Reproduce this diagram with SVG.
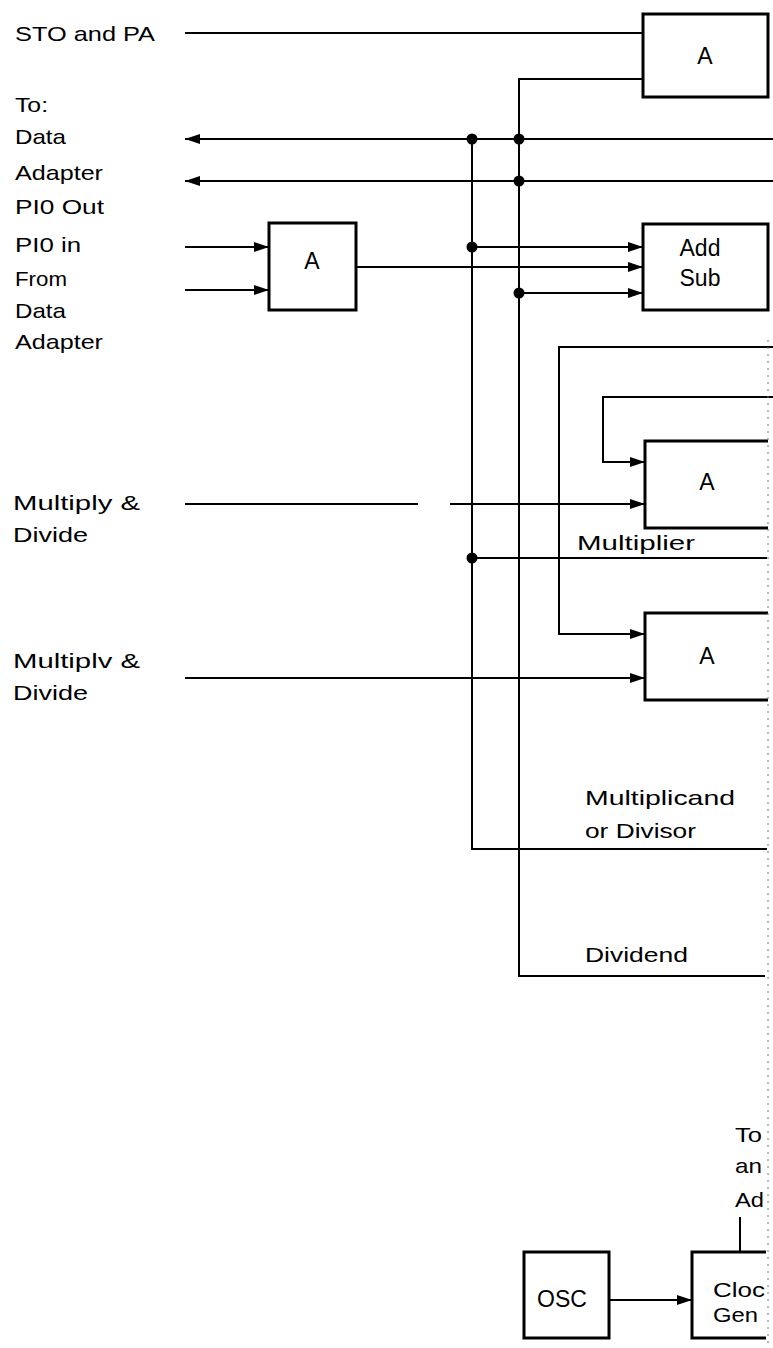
<svg xmlns="http://www.w3.org/2000/svg" width="773" height="1348" viewBox="0 0 773 1348">
<style>
text{font-family:"Liberation Sans",Arial,sans-serif;font-size:21px;fill:#000}
.lbl{text-anchor:middle;font-size:23px}
.box{fill:none;stroke:#000;stroke-width:3}
.w{fill:none;stroke:#000;stroke-width:2}
.dot{fill:#000}
.edge{fill:none;stroke:#777;stroke-width:1;stroke-dasharray:2 5}
</style>
<defs>
<marker id="ar" viewBox="0 0 15 10" refX="15" refY="5" markerWidth="15" markerHeight="10" markerUnits="userSpaceOnUse" orient="auto">
<path d="M0,0 L15,5 L0,10 Z" fill="#000"/>
</marker>
</defs>
<rect width="773" height="1348" fill="#fff"/>

<g id="labels">
<text x="15" y="41" textLength="140" lengthAdjust="spacingAndGlyphs">STO and PA</text>
<text x="15" y="112" textLength="33" lengthAdjust="spacingAndGlyphs">To:</text>
<text x="15" y="144" textLength="51" lengthAdjust="spacingAndGlyphs">Data</text>
<text x="15" y="180" textLength="88" lengthAdjust="spacingAndGlyphs">Adapter</text>
<text x="15" y="214" textLength="89" lengthAdjust="spacingAndGlyphs">PI0 Out</text>
<text x="15" y="252" textLength="66" lengthAdjust="spacingAndGlyphs">PI0 in</text>
<text x="15" y="286" textLength="52" lengthAdjust="spacingAndGlyphs">From</text>
<text x="15" y="318" textLength="51" lengthAdjust="spacingAndGlyphs">Data</text>
<text x="15" y="349" textLength="88" lengthAdjust="spacingAndGlyphs">Adapter</text>
<text x="13" y="510" textLength="127" lengthAdjust="spacingAndGlyphs">Multiply &amp;</text>
<text x="13" y="542" textLength="75" lengthAdjust="spacingAndGlyphs">Divide</text>
<text x="13" y="668" textLength="127" lengthAdjust="spacingAndGlyphs">Multiplv &amp;</text>
<text x="13" y="700" textLength="75" lengthAdjust="spacingAndGlyphs">Divide</text>
<text x="577" y="550" textLength="118" lengthAdjust="spacingAndGlyphs">Multiplier</text>
<text x="585" y="805" textLength="150" lengthAdjust="spacingAndGlyphs">Multiplicand</text>
<text x="585" y="838" textLength="111" lengthAdjust="spacingAndGlyphs">or Divisor</text>
<text x="585" y="962" textLength="103" lengthAdjust="spacingAndGlyphs">Dividend</text>
<text x="735" y="1142" textLength="27" lengthAdjust="spacingAndGlyphs">To</text>
<text x="735" y="1173" textLength="27" lengthAdjust="spacingAndGlyphs">an</text>
<text x="735" y="1207" textLength="29" lengthAdjust="spacingAndGlyphs">Ad</text>
</g>

<g id="boxA_top">
<rect class="box" x="643" y="14" width="125" height="83"/>
<text class="lbl" x="705" y="64">A</text>
</g>
<g id="boxA_in">
<rect class="box" x="269" y="223" width="87" height="87"/>
<text class="lbl" x="312" y="269">A</text>
</g>
<g id="boxAddSub">
<rect class="box" x="643" y="224" width="125" height="86"/>
<text class="lbl" x="700" y="256">Add</text>
<text class="lbl" x="700" y="286">Sub</text>
</g>
<g id="boxA1">
<path class="box" d="M768,441 H645 V528 H768"/>
<text class="lbl" x="707" y="490">A</text>
</g>
<g id="boxA2">
<path class="box" d="M768,613 H645 V700 H768"/>
<text class="lbl" x="707" y="664">A</text>
</g>
<g id="boxOSC">
<rect class="box" x="524" y="1252" width="85" height="86"/>
<text class="lbl" x="562" y="1307">OSC</text>
</g>
<g id="boxClock">
<path class="box" d="M766,1252 H692 V1338 H766"/>
<text x="713" y="1297" textLength="52" lengthAdjust="spacingAndGlyphs">Cloc</text>
<text x="713" y="1322" textLength="45" lengthAdjust="spacingAndGlyphs">Gen</text>
</g>

<g id="connectors">
<path class="w" d="M185,33 H643"/>
<path class="w" d="M643,79 H519 V976 H765"/>
<path class="w" d="M773,139 H185" marker-end="url(#ar)"/>
<path class="w" d="M773,181 H185" marker-end="url(#ar)"/>
<path class="w" d="M472,139 V849 H767"/>
<path class="w" d="M185,247 H269" marker-end="url(#ar)"/>
<path class="w" d="M185,290 H269" marker-end="url(#ar)"/>
<path class="w" d="M356,267 H643" marker-end="url(#ar)"/>
<path class="w" d="M472,247 H643" marker-end="url(#ar)"/>
<path class="w" d="M519,293 H643" marker-end="url(#ar)"/>
<path class="w" d="M773,347 H559 V634 H645" marker-end="url(#ar)"/>
<path class="w" d="M773,397 H603 V462 H645" marker-end="url(#ar)"/>
<path class="w" d="M185,504 H418"/>
<path class="w" d="M450,504 H645" marker-end="url(#ar)"/>
<path class="w" d="M472,558 H767"/>
<path class="w" d="M185,678 H645" marker-end="url(#ar)"/>
<path class="w" d="M740,1217 V1252"/>
<path class="w" d="M609,1300 H692" marker-end="url(#ar)"/>
<circle class="dot" cx="472" cy="139" r="5.5"/>
<circle class="dot" cx="519" cy="139" r="5.5"/>
<circle class="dot" cx="519" cy="181" r="5.5"/>
<circle class="dot" cx="472" cy="247" r="5.5"/>
<circle class="dot" cx="519" cy="293" r="5.5"/>
<circle class="dot" cx="472" cy="558" r="5.5"/>
</g>

<path class="edge" d="M768,340 V1345"/>
</svg>
